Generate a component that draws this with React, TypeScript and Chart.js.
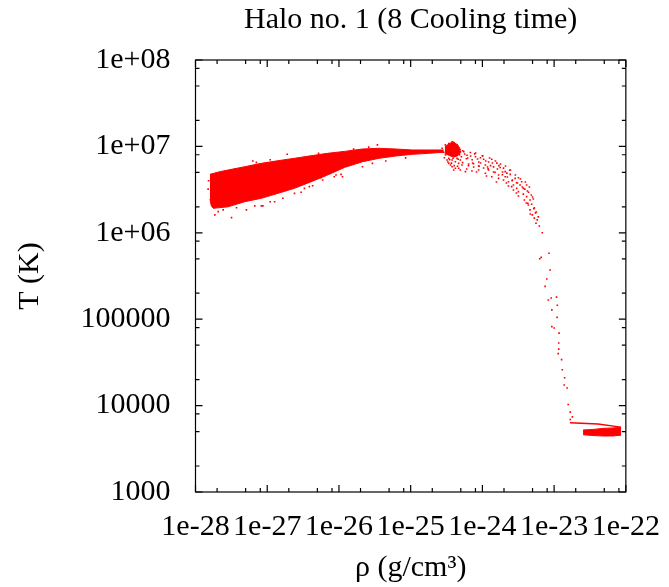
import React, { useEffect, useRef } from 'react';
import { Chart, registerables } from 'chart.js';

Chart.register(...registerables);

// ---- axis ticks ----
const xTickValues = [1e-28, 1e-27, 1e-26, 1e-25, 1e-24, 1e-23, 1e-22];
const xTickLabels = ['1e-28', '1e-27', '1e-26', '1e-25', '1e-24', '1e-23', '1e-22'];
const yTickValues = [1e3, 1e4, 1e5, 1e6, 1e7, 1e8];
const yTickLabels = ['1000', '10000', '100000', '1e+06', '1e+07', '1e+08'];
const minorMultipliers = [2, 5, 8];

// ---- dense hot band: outline (rho, T) ----
const bandUpper: [number, number][] = [
  [1.59e-28, 4.75e6], [2.19e-28, 5.1e6], [2.85e-28, 5.33e6], [4.86e-28, 5.82e6],
  [8.28e-28, 6.37e6], [1.41e-27, 6.83e6], [2.4e-27, 7.28e6], [4.09e-27, 7.8e6],
  [6.96e-27, 8.32e6], [1.19e-26, 8.75e6], [2.13e-26, 9.33e6], [3.63e-26, 9.51e6],
  [6.18e-26, 9.33e6], [1.05e-25, 9.09e6], [1.79e-25, 9.09e6], [2.89e-25, 9.09e6],
];
const bandLower: [number, number][] = [
  [1.59e-28, 2.45e6], [1.66e-28, 2.05e6], [1.77e-28, 1.92e6], [2.85e-28, 2.0e6],
  [4.86e-28, 2.29e6], [8.28e-28, 2.51e6], [1.41e-27, 2.86e6], [2.4e-27, 3.27e6],
  [4.09e-27, 3.9e6], [6.96e-27, 4.67e6], [1.19e-26, 5.7e6], [2.13e-26, 6.65e6],
  [3.63e-26, 7.28e6], [6.18e-26, 7.74e6], [1.05e-25, 8.1e6], [1.79e-25, 8.32e6],
  [2.89e-25, 8.55e6],
];

// ---- peak cluster core outline ----
const peakUpper: [number, number][] = [
  [2.99e-25, 9.85e6], [3.51e-25, 1.09e7], [3.98e-25, 1.12e7], [4.53e-25, 1.04e7], [4.98e-25, 9.09e6],
];
const peakLower: [number, number][] = [
  [2.99e-25, 8.3e6], [3.51e-25, 7.8e6], [3.98e-25, 7.5e6], [4.53e-25, 7.8e6], [4.98e-25, 8.5e6],
];

// ---- cold dense clump outline ----
const coldUpper: [number, number][] = [
  [2.53e-23, 5.22e3], [3.49e-23, 5.3e3], [4.8e-23, 5.45e3], [6.61e-23, 5.51e3], [8.6e-23, 5.6e3],
];
const coldLower: [number, number][] = [
  [2.53e-23, 4.6e3], [3.49e-23, 4.5e3], [4.8e-23, 4.45e3], [6.61e-23, 4.45e3], [8.6e-23, 4.55e3],
];
const coldTrack: [number, number][] = [
  [1.66e-23, 6.34e3], [4.09e-23, 6.12e3], [8.53e-23, 5.63e3],
];

// ---- individual particles ----
const bandSpeckles: [number, number][] = [
  [1.86e-28, 1.61e6], [3.18e-28, 1.5e6], [5.13e-28, 1.84e6], [8.7e-28, 2.05e6],
  [1.27e-27, 2.29e6], [1.65e-27, 2.51e6], [2.4e-27, 2.86e6], [3.3e-27, 3.27e6],
  [3.87e-27, 3.42e6], [5.93e-27, 4.08e6], [8.6e-27, 4.45e6], [1.07e-26, 4.75e6],
  [9.1e-27, 4.67e6], [1.12e-26, 4.45e6], [2.13e-26, 5.82e6], [2.93e-26, 6.37e6],
  [4.5e-26, 6.78e6], [8.5e-26, 7.36e6], [1.9e-27, 8.1e6], [6.3e-28, 6.78e6],
  [7.06e-28, 6.53e6], [3.44e-26, 1.04e7], [2.07e-28, 1.76e6], [2.43e-28, 1.84e6],
  [3.73e-28, 1.95e6], [6.7e-28, 2.05e6], [8.3e-28, 2.05e6], [1.1e-27, 2.29e6],
  [2.97e-27, 2.95e6], [4.3e-27, 3.5e6], [5.6e-27, 4.34e6], [1.5e-28, 3.2e6],
  [1.52e-28, 4.0e6], [3.6e-28, 5.5e6], [1.1e-27, 7.0e6], [5.2e-27, 8.3e6],
  [1.6e-26, 9.3e6], [2.6e-26, 9.8e6],
];
const peakPoints: [number, number][] = [
  [2.74e-25, 9.51e6], [3.05e-25, 1.04e7], [3.4e-25, 1.08e7], [3.78e-25, 1.13e7],
  [3.98e-25, 1.11e7], [4.43e-25, 1.04e7], [4.67e-25, 9.51e6], [4.93e-25, 8.69e6],
  [3.22e-25, 9.09e6], [3.58e-25, 8.69e6], [3.98e-25, 8.32e6], [4.43e-25, 7.94e6],
  [3.05e-25, 7.94e6], [3.4e-25, 7.28e6], [3.78e-25, 6.96e6], [4.2e-25, 6.65e6],
  [4.67e-25, 6.37e6], [3.4e-25, 6.37e6], [3.78e-25, 5.82e6], [4.2e-25, 5.58e6],
  [3.98e-25, 5.33e6], [4.93e-25, 5.33e6], [3.58e-25, 9.93e6], [4.2e-25, 9.51e6],
  [2.89e-25, 8.55e6], [3.22e-25, 6.96e6], [4.43e-25, 7.28e6], [4.93e-25, 6.96e6],
  [5.19e-25, 6.09e6], [3.7e-25, 7.94e6], [3.1e-25, 8.9e6], [3.6e-25, 6.1e6],
  [4.05e-25, 6.0e6], [4.5e-25, 5.9e6], [5.1e-25, 7.6e6], [5.3e-25, 8.9e6],
  [2.95e-25, 7.4e6], [3.3e-25, 6.6e6], [3.5e-25, 7.0e6], [3.9e-25, 7.3e6],
  [4.6e-25, 7.1e6], [3.25e-25, 8.2e6], [4.8e-25, 8.0e6], [3.7e-25, 6.4e6],
];
const tailPoints: [number, number][] = [
  [5.5e-25, 8.7e6], [6.1e-25, 7.9e6], [6.8e-25, 8.5e6], [7.2e-25, 7.0e6],
  [8.0e-25, 7.6e6], [8.9e-25, 6.6e6], [9.4e-25, 7.4e6], [1.04e-24, 7.1e6],
  [1.1e-24, 6.1e6], [1.22e-24, 6.6e6], [1.35e-24, 7.1e6], [1.43e-24, 5.8e6],
  [1.59e-24, 6.4e6], [1.77e-24, 5.7e6], [1.97e-24, 5.6e6], [2.08e-24, 5.1e6],
  [2.19e-24, 4.9e6], [2.44e-24, 4.75e6], [2.86e-24, 4.27e6], [3.18e-24, 4.34e6],
  [3.53e-24, 3.9e6], [4.14e-24, 3.57e6], [2.71e-24, 3.57e6], [3.18e-24, 3.0e6],
  [3.72e-24, 2.8e6], [4.14e-24, 2.62e6], [4.62e-24, 2.4e6], [4.86e-24, 2.14e6],
  [4.62e-24, 1.84e6], [4.97e-24, 1.61e6], [6.02e-24, 1.53e6], [5.59e-24, 1.29e6],
  [6.84e-24, 1.0e6],
  [4.67e-25, 5.58e6], [5.8e-25, 5.1e6], [7.15e-25, 5.19e6], [8.85e-25, 5.33e6],
  [1.1e-24, 4.89e6], [1.35e-24, 4.46e6], [1.68e-24, 4.27e6], [2.08e-24, 4.46e6],
  [2.31e-24, 3.9e6], [2.56e-24, 3.42e6], [3.01e-24, 3.27e6], [3.35e-24, 3.57e6],
  [3.72e-24, 3.27e6],
  [6.4e-25, 6.0e6], [7.5e-25, 6.3e6], [9.0e-25, 5.9e6], [1.2e-24, 5.5e6],
  [1.5e-24, 5.0e6], [1.9e-24, 4.7e6], [2.6e-24, 4.0e6], [3.0e-24, 3.8e6],
  [5.3e-25, 6.5e6], [6.0e-25, 7.2e6], [7.8e-25, 8.2e6], [1.0e-24, 7.8e6],
  [1.3e-24, 6.0e6], [1.7e-24, 6.0e6], [2.4e-24, 5.3e6], [3.9e-24, 3.2e6],
  [4.4e-24, 2.95e6], [4.3e-24, 2.2e6], [5.2e-24, 1.9e6], [5.5e-24, 1.7e6],
  [5.0e-24, 2.6e6],
  [5.66e-25, 8.17e6], [6.23e-25, 7.34e6], [6.85e-25, 7.74e6], [7.31e-25, 6.43e6],
  [8.04e-25, 8.39e6], [8.57e-25, 7.15e6], [9.44e-25, 6.43e6], [1.01e-24, 7.74e6],
  [1.11e-24, 6.78e6], [1.18e-24, 5.78e6], [1.26e-24, 7.34e6], [1.38e-24, 6.43e6],
  [1.52e-24, 6.78e6], [1.62e-24, 5.47e6], [1.79e-24, 6.25e6], [1.91e-24, 5.06e6],
  [2.1e-24, 5.93e6], [2.23e-24, 4.42e6], [2.46e-24, 5.33e6], [2.62e-24, 4.08e6],
  [2.88e-24, 4.67e6], [3.08e-24, 3.77e6], [3.39e-24, 4.2e6], [3.61e-24, 3.39e6],
  [3.97e-24, 3.87e6], [4.24e-24, 3.05e6], [4.52e-24, 3.39e6], [4.81e-24, 2.74e6],
  [5.13e-24, 2.46e6], [4.37e-24, 2.1e6], [5.3e-24, 1.94e6], [5.64e-24, 1.74e6],
  [5.82e-24, 1.41e6], [6.21e-24, 1.2e6], [5.3e-24, 1.48e6], [3.85e-24, 2.4e6],
  [3.18e-24, 2.67e6], [2.71e-24, 3.13e6], [2.31e-24, 3.48e6], [1.97e-24, 4.08e6],
  [1.68e-24, 4.67e6], [1.43e-24, 5.06e6], [1.22e-24, 5.33e6], [1.04e-24, 5.62e6],
  [8.85e-25, 5.93e6], [7.55e-25, 5.78e6], [6.43e-25, 6.25e6], [6.04e-25, 5.47e6],
  [8.3e-25, 5.06e6], [1.14e-24, 4.54e6], [1.57e-24, 3.87e6], [2.16e-24, 3.77e6],
  [2.98e-24, 2.89e6], [4.1e-24, 2.21e6], [4.66e-24, 1.65e6],
];
const coolingPoints: [number, number][] = [
  [6.3e-24, 5.0e5], [6.6e-24, 5.2e5], [8.47e-24, 5.8e5], [8.8e-24, 3.71e5],
  [7.9e-24, 2.92e5], [7.5e-24, 2.4e5], [8.3e-24, 1.67e5], [9.1e-24, 1.76e5],
  [1.08e-23, 1.8e5], [9.3e-24, 1.28e5], [1.11e-23, 1.45e5], [1.1e-23, 1.05e5],
  [9.3e-24, 8.2e4], [1.0e-23, 7.9e4], [1.17e-23, 6.9e4], [1.16e-23, 5.3e4],
  [1.16e-23, 4.5e4], [1.14e-23, 4.0e4], [1.27e-23, 3.4e4], [1.3e-23, 2.6e4],
  [1.4e-23, 2.1e4], [1.38e-23, 1.73e4], [1.52e-23, 1.6e4], [1.57e-23, 1.03e4],
  [1.68e-23, 8.4e3], [1.8e-23, 7.4e3], [1.68e-23, 6.9e3],
];

const RED = '#ff0000';
const FONT = 'Liberation Serif';

const toXY = (arr: [number, number][]) => arr.map(([x, y]) => ({ x, y }));

const outline = (arr: [number, number][], fill: any) => ({
  type: 'line' as const,
  data: toXY(arr),
  borderColor: RED,
  backgroundColor: RED,
  borderWidth: 1,
  pointRadius: 0,
  tension: 0,
  fill,
});
const particles = (arr: [number, number][]) => ({
  type: 'scatter' as const,
  data: toXY(arr),
  backgroundColor: RED,
  borderWidth: 0,
  pointStyle: 'rect',
  pointRadius: 1.15,
});

const framePlugin = {
  id: 'gnuFrame',
  afterDatasetsDraw(chart: any) {
    const { ctx, chartArea: a, scales } = chart;
    const xs = scales.x;
    const ys = scales.y;
    ctx.save();
    ctx.strokeStyle = '#000';
    ctx.lineWidth = 1.2;
    ctx.strokeRect(a.left, a.top, a.right - a.left, a.bottom - a.top);
    ctx.beginPath();
    const xTick = (v: number, len: number) => {
      const p = xs.getPixelForValue(v);
      ctx.moveTo(p, a.bottom); ctx.lineTo(p, a.bottom - len);
      ctx.moveTo(p, a.top); ctx.lineTo(p, a.top + len);
    };
    const yTick = (v: number, len: number) => {
      const p = ys.getPixelForValue(v);
      ctx.moveTo(a.left, p); ctx.lineTo(a.left + len, p);
      ctx.moveTo(a.right, p); ctx.lineTo(a.right - len, p);
    };
    xTickValues.forEach((v, i) => {
      xTick(v, 7);
      if (i < xTickValues.length - 1) minorMultipliers.forEach((m) => xTick(v * m, 4));
    });
    yTickValues.forEach((v, i) => {
      yTick(v, 7);
      if (i < yTickValues.length - 1) minorMultipliers.forEach((m) => yTick(v * m, 4));
    });
    ctx.stroke();
    ctx.restore();
  },
};

export default function App() {
  const ref = useRef<HTMLCanvasElement | null>(null);
  useEffect(() => {
    if (!ref.current) return;
    const font = { family: FONT, size: 30, weight: 'normal' as const };
    const chart = new Chart(ref.current, {
      type: 'scatter',
      data: {
        datasets: [
          outline(bandUpper, false),
          outline(bandLower, '-1'),
          outline(peakUpper, false),
          outline(peakLower, '-1'),
          outline(coldUpper, false),
          outline(coldLower, '-1'),
          { ...outline(coldTrack, false), borderWidth: 1.4 },
          particles(bandSpeckles),
          particles(peakPoints),
          particles(tailPoints),
          particles(coolingPoints),
        ] as any,
      },
      options: {
        animation: false,
        responsive: false,
        devicePixelRatio: 1,
        layout: { padding: { left: 0, right: 41, top: 0, bottom: 0 } },
        plugins: {
          legend: { display: false },
          tooltip: { enabled: false },
          title: {
            display: true,
            text: 'Halo no. 1 (8 Cooling time)',
            color: '#000',
            font,
            fullSize: false,
            padding: { top: 2, bottom: 22 },
          },
        },
        scales: {
          x: {
            type: 'logarithmic',
            position: 'bottom',
            min: 1e-28,
            max: 1e-22,
            afterBuildTicks: (s: any) => { s.ticks = xTickValues.map((value) => ({ value })); },
            afterFit: (s: any) => { s.height = 95; },
            ticks: {
              callback: (_v: any, i: number) => xTickLabels[i],
              color: '#000',
              font,
              padding: 9,
              maxRotation: 0,
              minRotation: 0,
              autoSkip: false,
            },
            grid: { display: false },
            border: { display: false },
            title: { display: true, text: 'ρ (g/cm³)', color: '#000', font, padding: { top: 0, bottom: 1 } },
          },
          y: {
            type: 'logarithmic',
            position: 'left',
            min: 1e3,
            max: 1e8,
            afterBuildTicks: (s: any) => { s.ticks = yTickValues.map((value) => ({ value })); },
            afterFit: (s: any) => { s.width = 195.5; },
            ticks: {
              callback: (_v: any, i: number) => yTickLabels[i],
              color: '#000',
              font,
              padding: 17,
              autoSkip: false,
            },
            grid: { display: false },
            border: { display: false },
            title: { display: true, text: 'T (K)', color: '#000', font, padding: { top: 12, bottom: 0 } },
          },
        },
      } as any,
      plugins: [framePlugin],
    });
    return () => chart.destroy();
  }, []);
  return (
    <div style={{ position: 'fixed', left: 0, top: 0, width: 669, height: 587, background: '#fff' }}>
      <canvas ref={ref} width={669} height={587} style={{ width: 669, height: 587, display: 'block' }} />
    </div>
  );
}
